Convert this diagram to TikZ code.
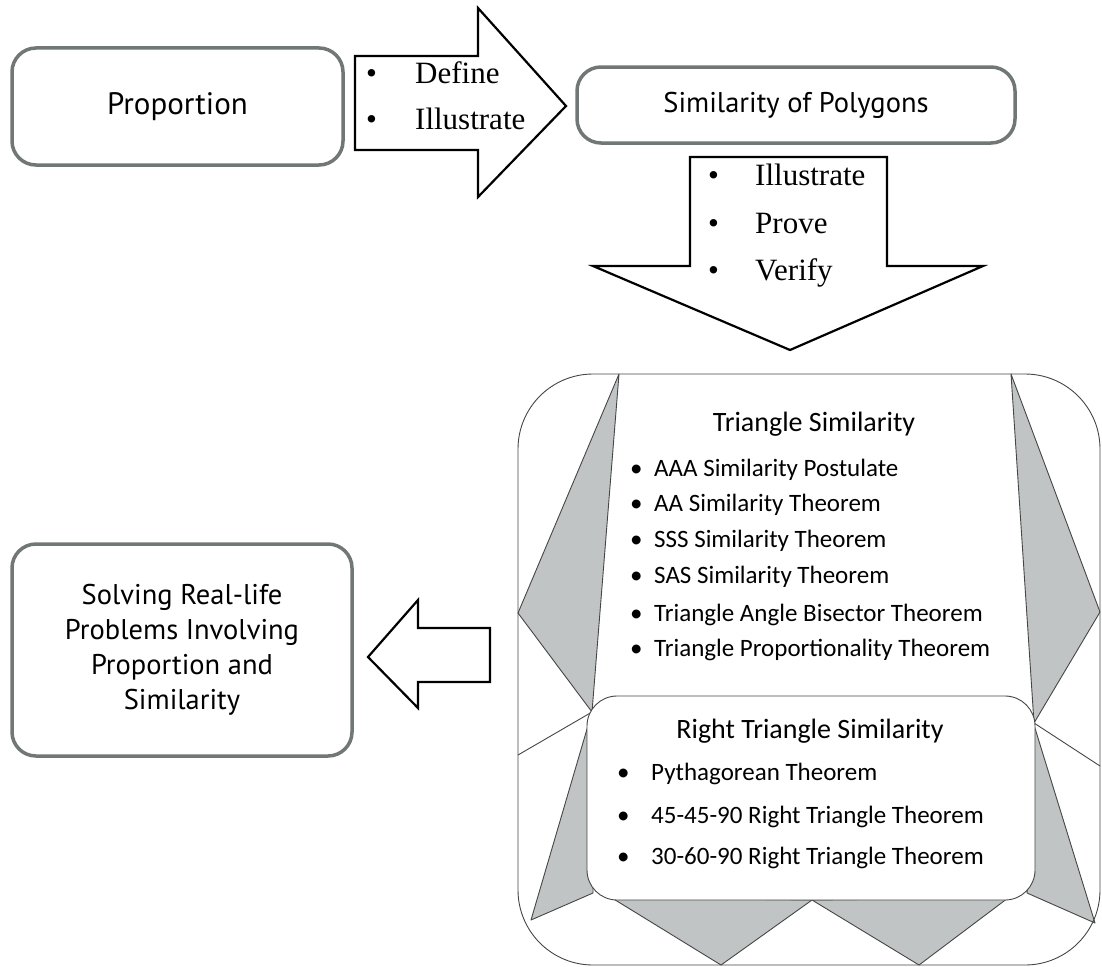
\documentclass[tikz,border=0pt]{standalone}
\usepackage{fontspec}
\setmainfont{Liberation Serif}
\newfontfamily\myrfont{PT Sans}
\newfontfamily\calfont{Carlito}
\definecolor{boxgray}{RGB}{113,118,118}
\definecolor{trigray}{RGB}{192,196,196}
\definecolor{linegray}{RGB}{70,70,70}
\tikzset{
  graybox/.style={draw=boxgray, line width=3.5pt, rounded corners=24pt, fill=white, inner sep=0pt, align=center, font=\myrfont\fontsize{28.5}{35}\selectfont},
  blockarrow/.style={draw=black, line width=2.2pt, fill=white, line join=miter},
  arrowtext/.style={anchor=mid west, inner sep=0pt, font=\fontsize{31}{35}\selectfont},
  tri/.style={fill=trigray, draw=linegray, line width=0.9pt, line join=round},
  thinline/.style={draw=linegray, line width=0.9pt},
  heading/.style={inner sep=0pt, font=\calfont\fontsize{28}{32}\selectfont},
  itemtext/.style={anchor=mid west, inner sep=0pt, font=\calfont\fontsize{25}{30}\selectfont}
}
\begin{document}
\begin{tikzpicture}[x=1pt,y=-1pt]
\useasboundingbox (0,0) rectangle (1102,966);

% boxes on the left and top
\node[graybox, minimum width=331pt, minimum height=117pt, font=\myrfont\fontsize{31}{35}\selectfont] (prop) at (177.5,106.5) {Proportion};
\node[graybox, minimum width=438pt, minimum height=76pt] (simpoly) at (796,105) {Similarity of Polygons};
\node[graybox, minimum width=340pt, minimum height=212pt] (solve) at (182,650) {Solving Real-life\\Problems Involving\\Proportion and\\Similarity};

% right block arrow
\draw[blockarrow] (355,56) -- (478,56) -- (478,8) -- (566,106) -- (478,197) -- (478,150) -- (355,150) -- cycle;
\node[arrowtext] (b1) at (366,81) {\makebox[49pt][l]{\textbullet}Define};
\node[arrowtext] (b2) at (366,127) {\makebox[49pt][l]{\textbullet}Illustrate};

% down block arrow
\draw[blockarrow] (690,157) -- (887,157) -- (887,266) -- (983,266) -- (790,350) -- (593,266) -- (690,266) -- cycle;
\node[arrowtext] (d1) at (708,183) {\makebox[47pt][l]{\textbullet}Illustrate};
\node[arrowtext] (d2) at (708,231) {\makebox[47pt][l]{\textbullet}Prove};
\node[arrowtext] (d3) at (708,278) {\makebox[47pt][l]{\textbullet}Verify};

% left block arrow
\draw[blockarrow] (490,628) -- (418,628) -- (418,600) -- (368,657) -- (418,708) -- (418,682) -- (490,682) -- cycle;

% big box
\fill[white, rounded corners=75pt] (518,374) rectangle (1100,965);
\path[tri] (619,374) -- (518,613) -- (592,712) -- cycle;
\path[tri] (592,712) -- (531,920) -- (593,893) -- cycle;
\path[tri] (612,898) -- (721,965) -- (812,900) -- cycle;
\path[tri] (812,900) -- (919,965) -- (1008,898) -- cycle;
\path[tri] (1011,374) -- (1100,612) -- (1034,723) -- cycle;
\path[tri] (1034,725) -- (1095,923) -- (1027,893) -- cycle;
\draw[thinline] (592,712) -- (518,755);
\draw[thinline] (1034,723) -- (1100,766);
\draw[thinline, rounded corners=30pt, fill=white] (587,696) rectangle (1035,900);
\draw[thinline, rounded corners=75pt] (518,374) rectangle (1100,965);

\node[heading] (ts) at (814,424) {Triangle Similarity};
\node[itemtext] (t1) at (630,474) {\makebox[24pt][l]{\textbullet}AAA Similarity Postulate};
\node[itemtext] (t2) at (630,509) {\makebox[24pt][l]{\textbullet}AA Similarity Theorem};
\node[itemtext] (t3) at (630,545) {\makebox[24pt][l]{\textbullet}SSS Similarity Theorem};
\node[itemtext] (t4) at (630,581) {\makebox[24pt][l]{\textbullet}SAS Similarity Theorem};
\node[itemtext] (t5) at (630,619) {\makebox[24pt][l]{\textbullet}Triangle Angle Bisector Theorem};
\node[itemtext] (t6) at (630,654) {\makebox[24pt][l]{\textbullet}Triangle Proportionality Theorem};

\node[heading] (rts) at (810,731) {Right Triangle Similarity};
\node[itemtext] (r1) at (617,778) {\makebox[34pt][l]{\textbullet}Pythagorean Theorem};
\node[itemtext] (r2) at (617,821) {\makebox[34pt][l]{\textbullet}45-45-90 Right Triangle Theorem};
\node[itemtext] (r3) at (617,862) {\makebox[34pt][l]{\textbullet}30-60-90 Right Triangle Theorem};
\end{tikzpicture}
\end{document}
